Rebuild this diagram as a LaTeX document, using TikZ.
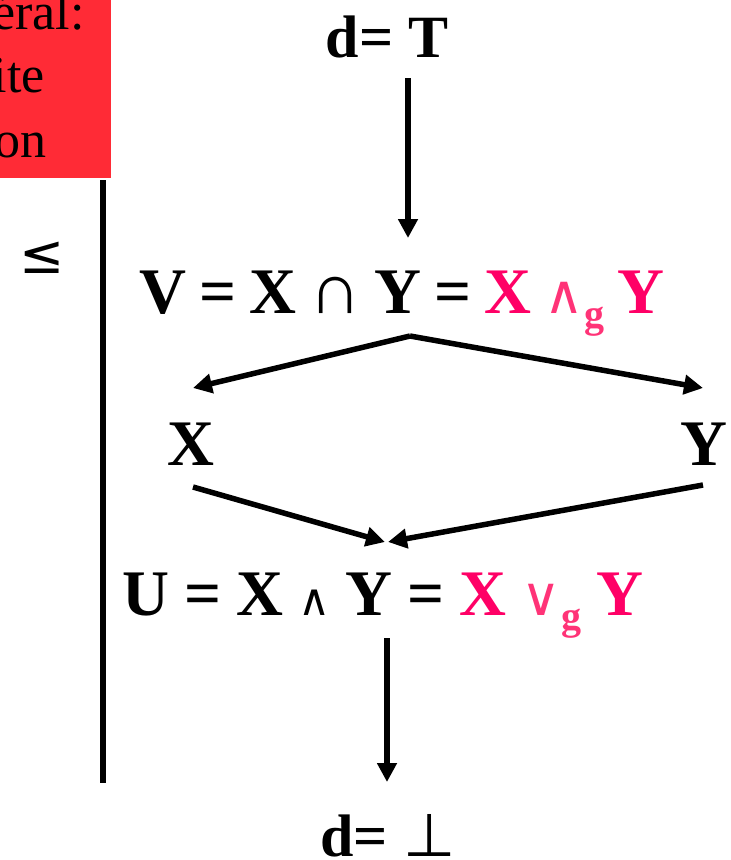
\documentclass[tikz,border=0pt]{standalone}
\usepackage{fontspec}
\setmainfont{Liberation Serif}
\newfontfamily\djs{DejaVu Sans}
\usetikzlibrary{arrows.meta}
\definecolor{pinkA}{HTML}{FF0066}
\definecolor{pinkB}{HTML}{FF3377}
\definecolor{boxred}{HTML}{FF2B36}
\newcommand{\bigf}{\fontsize{65}{70}\selectfont\bfseries\spaceskip=13pt\relax}
\newcommand{\bigfU}{\fontsize{65}{70}\selectfont\bfseries\spaceskip=15pt\relax}
\newcommand{\subg}[1]{\raisebox{-14pt}{\fontsize{40}{40}\selectfont\bfseries #1}}
\begin{document}
\begin{tikzpicture}[x=1pt,y=-1pt,
  arr/.style={line width=5.5pt,-{Triangle[length=19pt,width=19pt]}},
  txt/.style={inner sep=0pt,anchor=base,font=\bigf},
  boxtxt/.style={inner sep=0pt,anchor=base east,font=\fontsize{52}{56}\selectfont}]
\useasboundingbox (0,0) rectangle (731,860);
% red box
\fill[boxred] (0,0) rectangle (111,178);
\node[boxtxt] (b1) at (85,29) {éral:};
\node[boxtxt] (b2) at (45,92) {ite};
\node[boxtxt] (b3) at (47,157) {on};
% vertical line
\coordinate (lt) at (103,180);
\coordinate (lb) at (103,783);
\draw[line width=5.5pt] (lt) -- (lb);
\node[inner sep=0pt,font=\djs\fontsize{54}{54}\selectfont] (le) at (42,258) {≤};
% nodes
\node[txt,font=\fontsize{60}{64}\selectfont\bfseries] (dT) at (387,57) {d= T};
\node[txt] (V) at (402,313) {V = X {\mdseries\fontsize{72}{72}\selectfont ∩} Y = \textcolor{pinkA}{X} \textcolor{pinkB}{{\djs\mdseries\fontsize{54}{54}\selectfont ∧}\subg{g}} \textcolor{pinkA}{Y}};
\node[txt] (X) at (191,465) {X};
\node[txt] (Y) at (704,465) {Y};
\node[txt,font=\bigfU] (U) at (383,615) {U = X {\djs\mdseries\fontsize{44}{44}\selectfont ∧} Y = \textcolor{pinkA}{X} \textcolor{pinkB}{{\djs\mdseries\fontsize{54}{54}\selectfont ∨}\subg{g}} \textcolor{pinkA}{Y}};
\node[txt,font=\fontsize{60}{64}\selectfont\bfseries] (dB) at (388,856) {d= {\djs\mdseries\fontsize{60}{60}\selectfont ⊥}};
% connector endpoints
\coordinate (t1) at (408,78);
\coordinate (t2) at (408,238);
\coordinate (vb) at (410,336);
\coordinate (xa) at (193,388);
\coordinate (ya) at (703,388);
\coordinate (xb) at (193,487);
\coordinate (yb) at (703,485);
\coordinate (ul) at (385,542);
\coordinate (ur) at (388,542);
\coordinate (u1) at (387,638);
\coordinate (u2) at (387,782);
\draw[arr] (t1) -- (t2);
\draw[arr] (vb) -- (xa);
\draw[arr] (vb) -- (ya);
\draw[arr] (xb) -- (ul);
\draw[arr] (yb) -- (ur);
\draw[arr] (u1) -- (u2);
\end{tikzpicture}
\end{document}
